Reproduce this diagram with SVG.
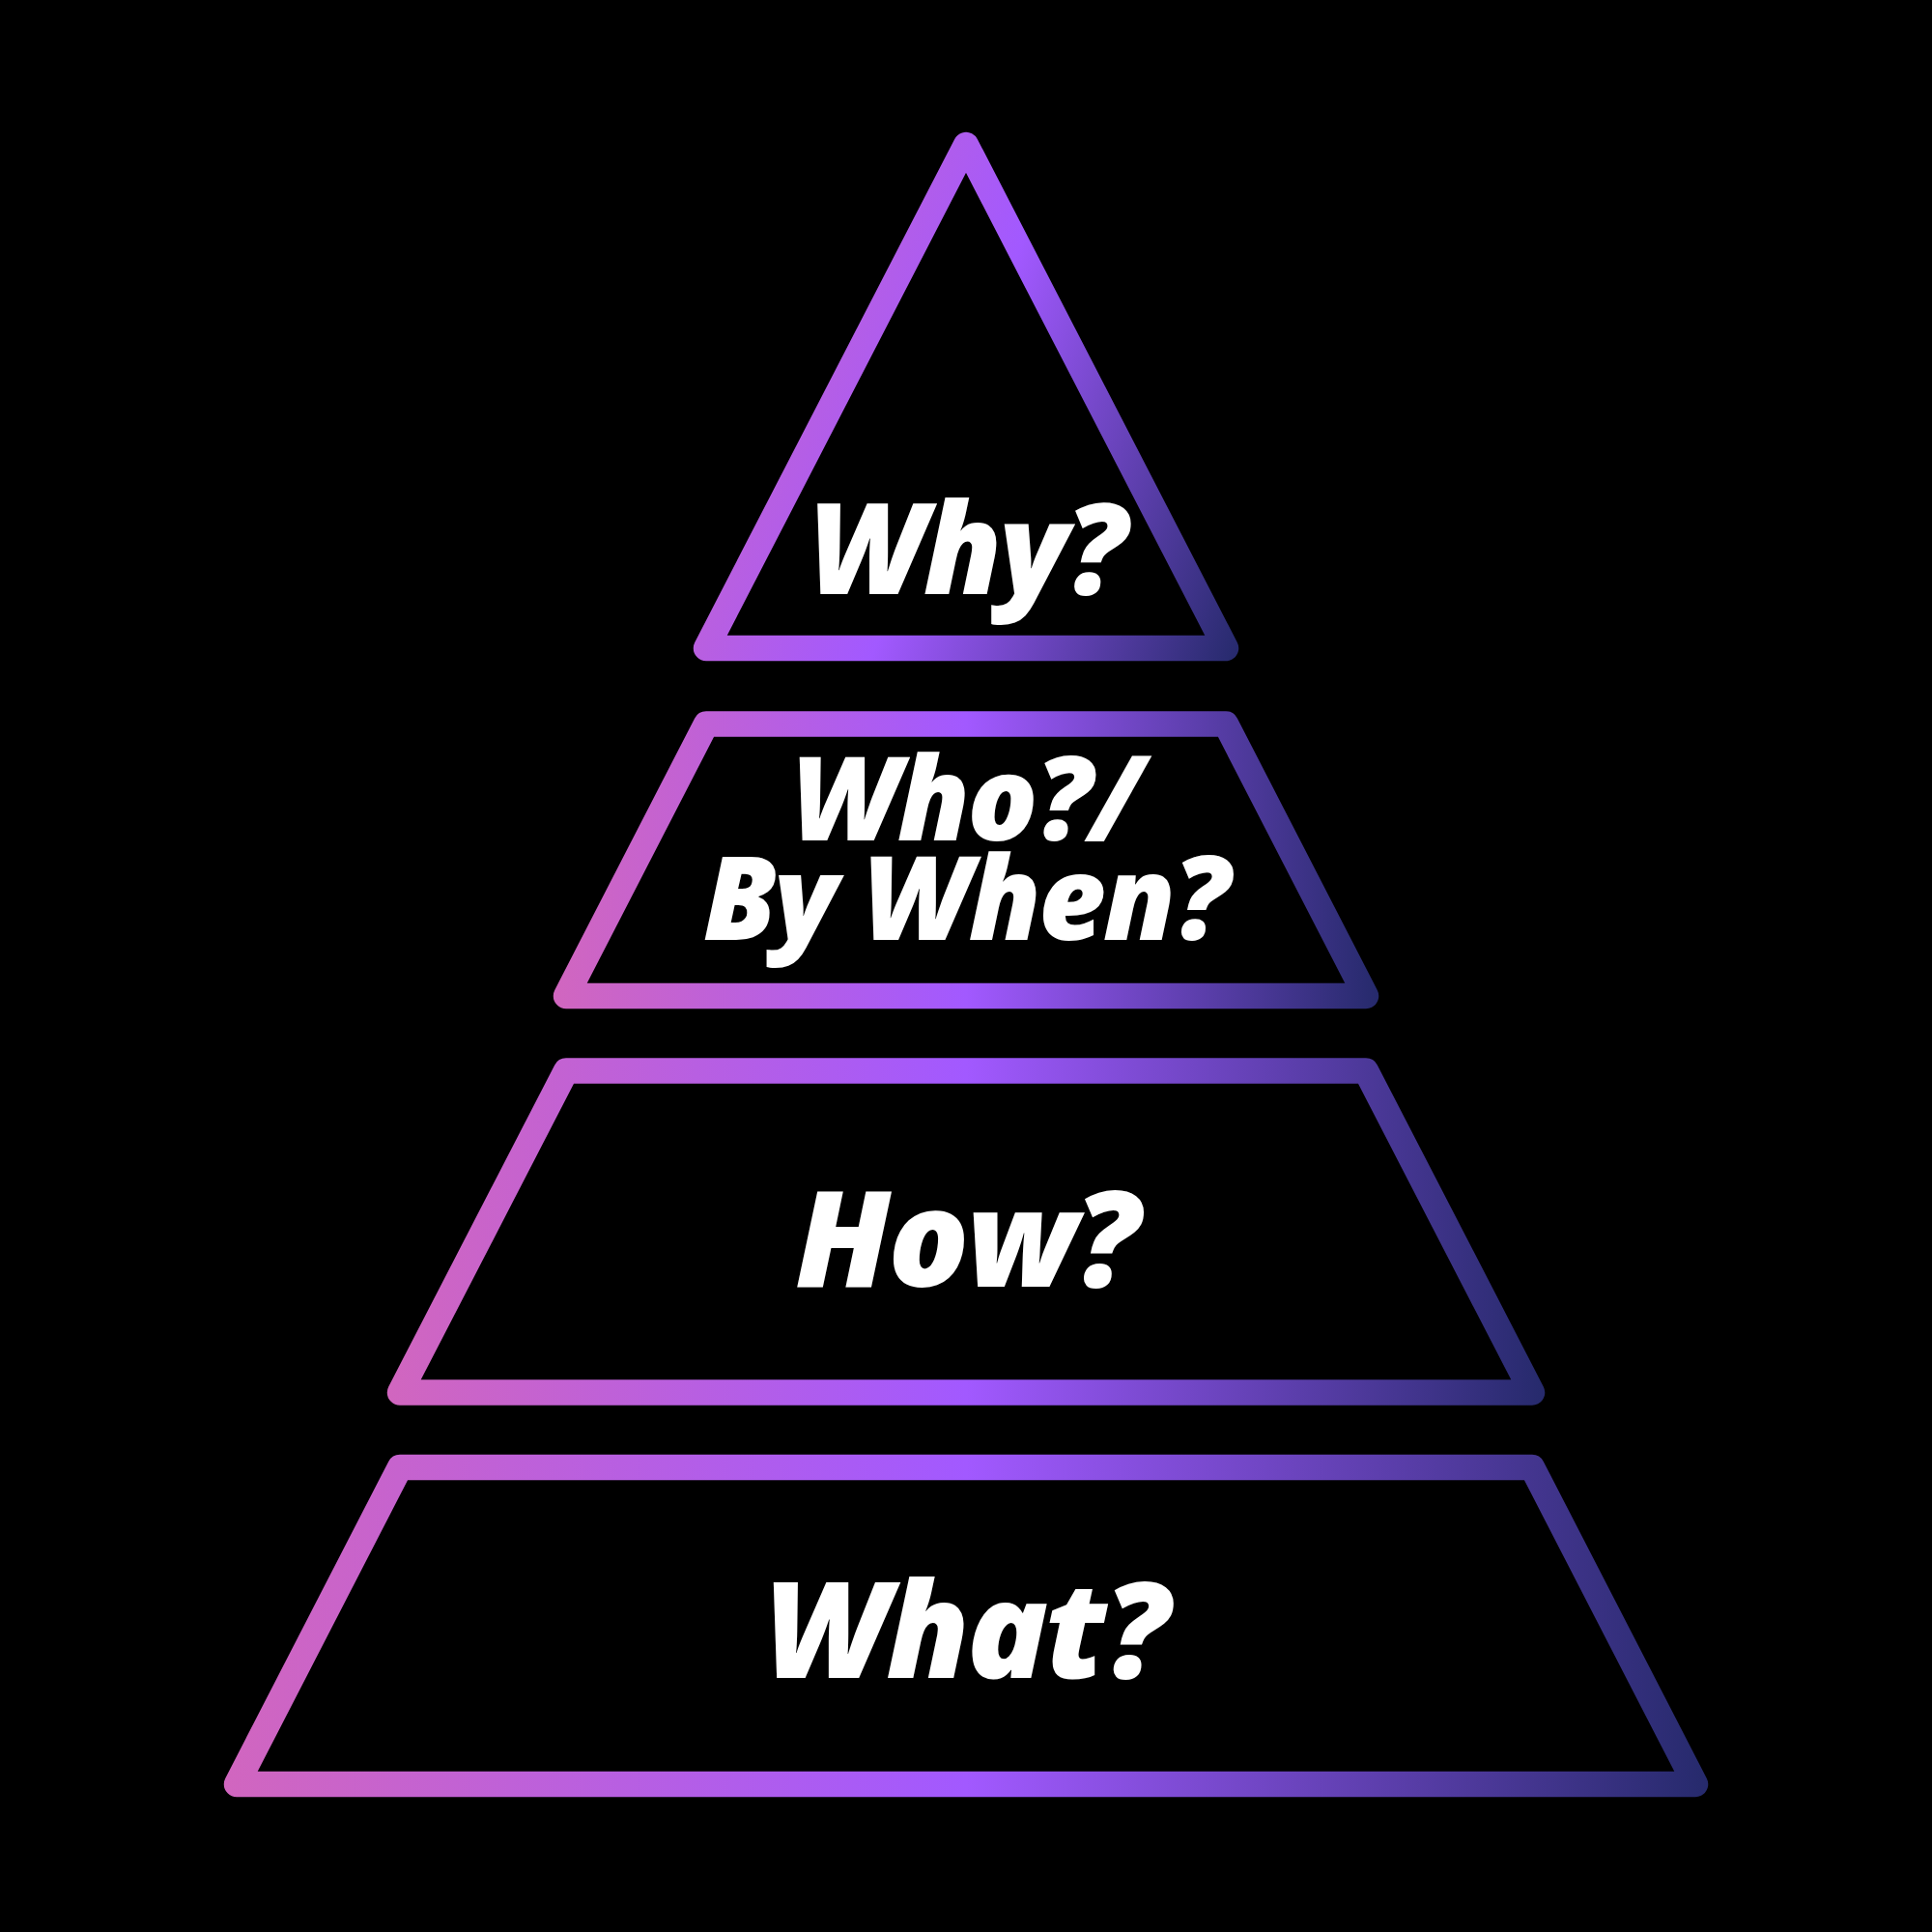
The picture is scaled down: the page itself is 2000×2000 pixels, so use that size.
<svg xmlns="http://www.w3.org/2000/svg" width="2000" height="2000" viewBox="0 0 2000 2000">
  <defs>
    <linearGradient id="gTri" gradientUnits="userSpaceOnUse" x1="570" y1="550" x2="1242" y2="792">
      <stop offset="0" stop-color="#d166bf"/>
      <stop offset="0.5" stop-color="#a259ff"/>
      <stop offset="1" stop-color="#262a6c"/>
    </linearGradient>
    <linearGradient id="g2" gradientUnits="userSpaceOnUse" x1="573" y1="0" x2="1427" y2="0">
      <stop offset="0" stop-color="#d166bf"/>
      <stop offset="0.5" stop-color="#a259ff"/>
      <stop offset="1" stop-color="#262a6c"/>
    </linearGradient>
    <linearGradient id="g3" gradientUnits="userSpaceOnUse" x1="401" y1="0" x2="1599" y2="0">
      <stop offset="0" stop-color="#d166bf"/>
      <stop offset="0.5" stop-color="#a259ff"/>
      <stop offset="1" stop-color="#262a6c"/>
    </linearGradient>
    <linearGradient id="g4" gradientUnits="userSpaceOnUse" x1="232" y1="0" x2="1768" y2="0">
      <stop offset="0" stop-color="#d166bf"/>
      <stop offset="0.5" stop-color="#a259ff"/>
      <stop offset="1" stop-color="#262a6c"/>
    </linearGradient>
  </defs>
  <style>
    .layer { fill: none; stroke-width: 26.5; stroke-linejoin: round; }
    .lbl { fill: #ffffff; font-family: "Open Sans", "Noto Sans", "DejaVu Sans", sans-serif; font-weight: 800; font-style: italic; text-anchor: middle; letter-spacing: -3px; }
  </style>
  <rect x="0" y="0" width="2000" height="2000" fill="#000000"/>
  <g id="layer-why">
    <path class="layer" stroke="url(#gTri)" d="M1000,150 L1269,671 L731,671 Z"/>
    <text class="lbl" x="1000" y="615" font-size="131">Why?</text>
  </g>
  <g id="layer-who">
    <path class="layer" stroke="url(#g2)" d="M731,749.5 L1269,749.5 L1414,1031 L586,1031 Z"/>
    <text class="lbl" font-size="121"><tspan x="1000" y="870">Who?/</tspan><tspan x="999" y="973">By When?</tspan></text>
  </g>
  <g id="layer-how">
    <path class="layer" stroke="url(#g3)" d="M586,1108.5 L1414,1108.5 L1586,1441.5 L414,1441.5 Z"/>
    <text class="lbl" x="1000" y="1332" font-size="139">How?</text>
  </g>
  <g id="layer-what">
    <path class="layer" stroke="url(#g4)" d="M414,1519 L1586,1519 L1755,1847 L245,1847 Z"/>
    <text class="lbl" x="999" y="1737" font-size="139">What?</text>
  </g>
  <g id="connectors"/>
</svg>
